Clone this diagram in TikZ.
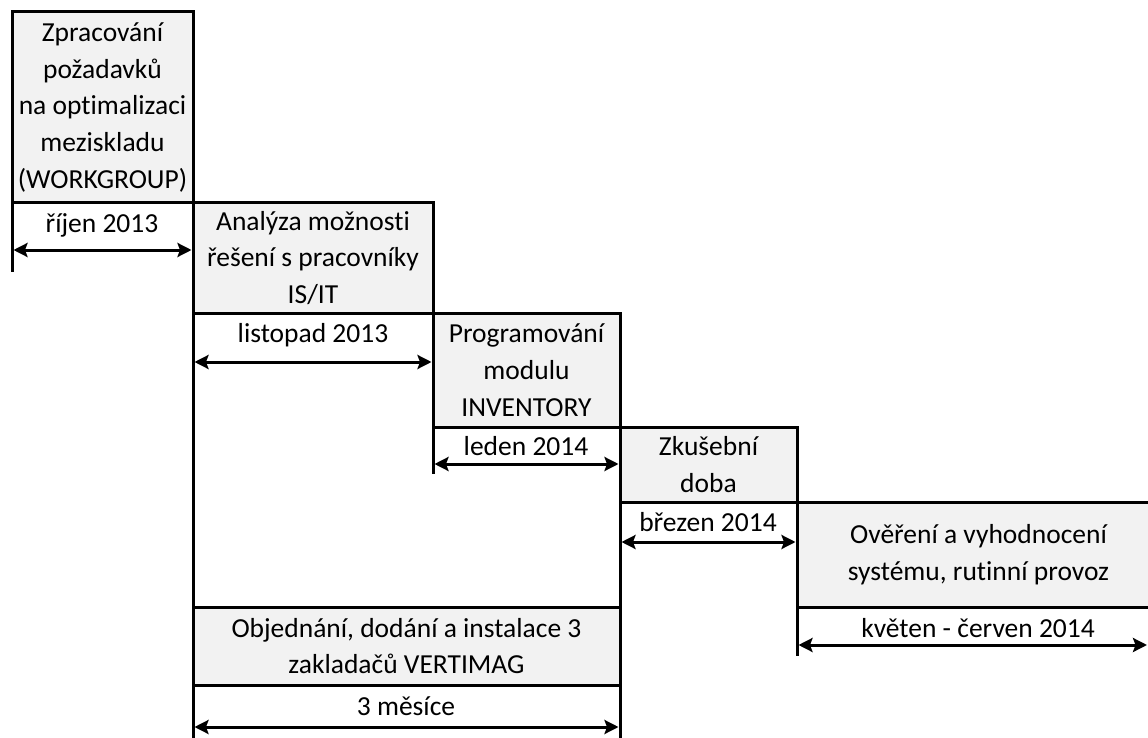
\documentclass[tikz,border=0pt]{standalone}
\usepackage{fontspec}
\setmainfont{Carlito}[Ligatures=NoCommon]
\usetikzlibrary{arrows.meta}
\definecolor{boxfill}{HTML}{F2F2F2}
\tikzset{
  phase/.style={draw=black, fill=boxfill, line width=3pt, anchor=north west,
    inner sep=0pt, outer sep=0pt, align=center,
    font=\fontsize{27.5}{36.7}\selectfont},
  period/.style={inner sep=0pt, font=\fontsize{27.5}{33}\selectfont},
  rule/.style={line width=3pt},
  span/.style={line width=3pt, {Stealth[length=14pt,width=14pt,inset=2.5pt]}-{Stealth[length=14pt,width=14pt,inset=2.5pt]}},
}
\begin{document}
\begin{tikzpicture}[x=1pt,y=-1pt]
\clip (0,0) rectangle (1148,738);
\fill[white] (0,0) rectangle (1148,738);

% phases
\node[phase, minimum width=181pt, minimum height=191pt] (b1) at (12,12)
  {Zpracování\\požadavků\\na optimalizaci\\meziskladu\\(WORKGROUP)};
\node[phase, minimum width=240pt, minimum height=110pt] (b2) at (193,203)
  {Analýza možnosti\\řešení s pracovníky\\IS/IT};
\node[phase, minimum width=187pt, minimum height=114pt] (b3) at (433,313)
  {Programování\\modulu\\INVENTORY};
\node[phase, minimum width=177pt, minimum height=75pt] (b4) at (620,427)
  {Zkušební\\doba};
\node[phase, minimum width=363pt, minimum height=105pt] (b5) at (797,502)
  {Ověření a vyhodnocení\\systému, rutinní provoz};
\node[phase, minimum width=427pt, minimum height=78pt] (b6) at (193,607)
  {Objednání, dodání a instalace 3\\zakladačů VERTIMAG};

% durations
\node[period] (l1) at (102,225) {říjen 2013};
\node[period] (l2) at (313,335) {listopad 2013};
\node[period] (l3) at (526,446) {leden 2014};
\node[period] (l4) at (708,522) {březen 2014};
\node[period] (l5) at (978,628) {květen - červen 2014};
\node[period] (l6) at (406,706) {3 měsíce};

% free ends of the guide lines
\coordinate (e1) at (12,272);
\coordinate (e2) at (193,740);
\coordinate (e3) at (433,474);
\coordinate (e4) at (620,740);
\coordinate (e5) at (797,656);

\draw[rule] (b1.south west) -- (e1);
\draw[rule] (b2.south west) -- (b6.north west);
\draw[rule] (b6.south west) -- (e2);
\draw[rule] (b2.south east) -- (e3);
\draw[rule] (b4.south west) -- (b6.north east);
\draw[rule] (b6.south east) -- (e4);
\draw[rule] (b5.south west) -- (e5);

% arrow ends
\coordinate (a1l) at (13.5,250);  \coordinate (a1r) at (191.5,250);
\coordinate (a2l) at (194.5,362); \coordinate (a2r) at (431.5,362);
\coordinate (a3l) at (434.5,464); \coordinate (a3r) at (618.5,464);
\coordinate (a4l) at (621.5,542); \coordinate (a4r) at (795.5,542);
\coordinate (a5l) at (798.5,645); \coordinate (a5r) at (1147,645);
\coordinate (a6l) at (194.5,727); \coordinate (a6r) at (618.5,727);

\draw[span] (a1l) -- (a1r);
\draw[span] (a2l) -- (a2r);
\draw[span] (a3l) -- (a3r);
\draw[span] (a4l) -- (a4r);
\draw[span] (a5l) -- (a5r);
\draw[span] (a6l) -- (a6r);
\end{tikzpicture}
\end{document}
